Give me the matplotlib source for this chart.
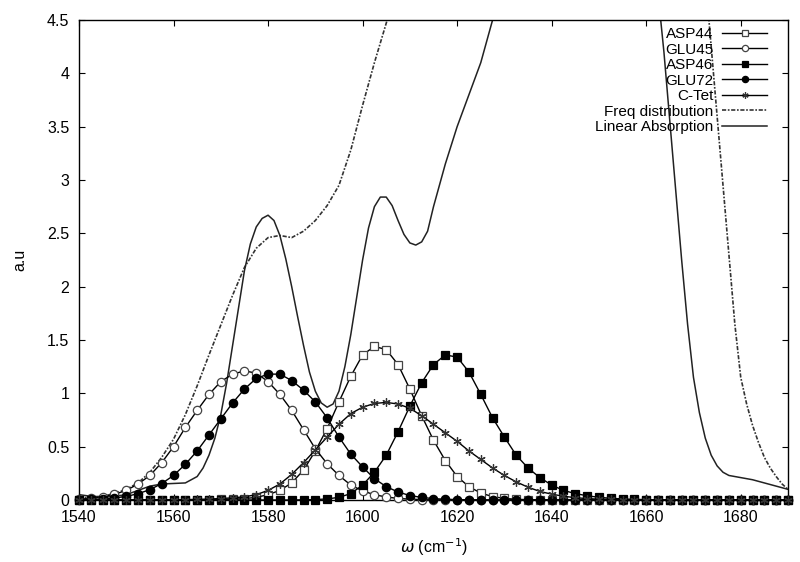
import numpy as np
import matplotlib
matplotlib.use("Agg")
import matplotlib.pyplot as plt
from matplotlib.ticker import FormatStrFormatter

# ---------------------------------------------------------------------------
# Data
# ---------------------------------------------------------------------------

# site spectra share a 2.5 cm^-1 grid, 1540..1690
omega = np.arange(1540, 1690.1, 2.5)

asp44 = [0, 0, 0, 0, 0, 0, 0, 0, 0.001, 0.001, 0.002, 0.003, 0.005, 0.008,
         0.013, 0.025, 0.05, 0.09, 0.16, 0.28, 0.46, 0.67, 0.92, 1.16, 1.36,
         1.44, 1.41, 1.27, 1.04, 0.79, 0.56, 0.37, 0.22, 0.125, 0.065, 0.032,
         0.015, 0.007, 0.003, 0.001, 0.001, 0, 0, 0, 0, 0, 0, 0, 0, 0, 0, 0,
         0, 0, 0, 0, 0, 0, 0, 0, 0]

glu45 = [0.008, 0.015, 0.029, 0.053, 0.09, 0.15, 0.23, 0.35, 0.5, 0.68,
         0.84, 0.99, 1.11, 1.18, 1.21, 1.19, 1.11, 0.99, 0.84, 0.66, 0.48,
         0.34, 0.23, 0.14, 0.085, 0.05, 0.028, 0.015, 0.008, 0.004, 0.002,
         0.001, 0, 0, 0, 0, 0, 0, 0, 0, 0, 0, 0, 0, 0, 0, 0, 0, 0, 0, 0, 0,
         0, 0, 0, 0, 0, 0, 0, 0, 0]

asp46 = [0, 0, 0, 0, 0, 0, 0, 0, 0, 0, 0, 0, 0, 0, 0, 0, 0, 0, 0, 0.002,
         0.004, 0.01, 0.025, 0.06, 0.14, 0.26, 0.42, 0.64, 0.88, 1.1, 1.27,
         1.36, 1.34, 1.2, 0.99, 0.77, 0.59, 0.42, 0.3, 0.21, 0.14, 0.09,
         0.06, 0.04, 0.025, 0.016, 0.01, 0.006, 0.004, 0.002, 0.002, 0.001,
         0.001, 0.001, 0, 0, 0, 0, 0, 0, 0]

glu72 = [0.002, 0.005, 0.01, 0.019, 0.034, 0.059, 0.097, 0.154, 0.23, 0.335,
         0.46, 0.61, 0.76, 0.91, 1.04, 1.14, 1.18, 1.18, 1.12, 1.03, 0.92,
         0.77, 0.59, 0.43, 0.31, 0.2, 0.125, 0.075, 0.042, 0.024, 0.013,
         0.007, 0.004, 0.002, 0.001, 0, 0, 0, 0, 0, 0, 0, 0, 0, 0, 0, 0, 0,
         0, 0, 0, 0, 0, 0, 0, 0, 0, 0, 0, 0, 0]

ctet = [0, 0, 0, 0, 0, 0.001, 0.001, 0.002, 0.003, 0.004, 0.006, 0.009,
        0.014, 0.02, 0.03, 0.05, 0.09, 0.15, 0.24, 0.35, 0.47, 0.59, 0.71,
        0.81, 0.87, 0.905, 0.915, 0.9, 0.86, 0.79, 0.71, 0.63, 0.55, 0.46,
        0.38, 0.3, 0.23, 0.17, 0.12, 0.08, 0.055, 0.035, 0.022, 0.013, 0.008,
        0.005, 0.003, 0.002, 0.001, 0.001, 0.001, 0, 0, 0, 0, 0, 0, 0, 0, 0, 0]

# frequency distribution (dash-dot curve)
fd_x = [1540, 1542.5, 1545, 1547.5, 1550, 1552.5, 1555, 1557.5, 1560, 1562.5,
        1565, 1567.5, 1570, 1572.5, 1575, 1577.5, 1580, 1582.5, 1585, 1587.5,
        1590, 1592.5, 1595, 1597.5, 1600, 1602.5, 1605, 1607.5, 1610, 1620,
        1630, 1640, 1650, 1660, 1665, 1670, 1672.5, 1673.75, 1675, 1676.25,
        1677.5, 1678.75, 1680, 1681.25, 1682.5, 1683.75, 1685, 1686.25,
        1687.5, 1688.75, 1690]
fd_y = [0.02, 0.025, 0.035, 0.06, 0.1, 0.16, 0.26, 0.4, 0.57, 0.8,
        1.07, 1.36, 1.64, 1.92, 2.18, 2.36, 2.46, 2.48, 2.46, 2.52,
        2.62, 2.76, 2.95, 3.28, 3.7, 4.1, 4.47, 4.85, 5.2, 6.5,
        7.5, 8.0, 8.0, 7.5, 6.8, 5.6, 4.9, 4.25, 3.6, 2.95,
        2.3, 1.65, 1.15, 0.9, 0.7, 0.54, 0.4, 0.3,
        0.22, 0.15, 0.1]

# linear absorption (solid curve)
la_x = [1540, 1542.5, 1545, 1547.5, 1550, 1552.5, 1555, 1557.5, 1560, 1562.5,
        1565, 1566.25, 1567.5, 1568.75, 1570, 1571.25, 1572.5, 1573.75, 1575,
        1576.25, 1577.5, 1578.75, 1580, 1581.25, 1582.5, 1583.75, 1585,
        1586.25, 1587.5, 1588.75, 1590, 1591.25, 1592.5, 1593.75, 1595,
        1596.25, 1597.5, 1598.75, 1600, 1601.25, 1602.5, 1603.75, 1605,
        1606.25, 1607.5, 1608.75, 1610, 1611.25, 1612.5, 1613.75, 1615,
        1617.5, 1620, 1622.5, 1625, 1627.5, 1630, 1635, 1640, 1645, 1650,
        1655, 1660, 1662.5, 1663.75, 1665, 1666.25, 1667.5, 1668.75, 1670,
        1671.25, 1672.5, 1673.75, 1675, 1676.25, 1677.5, 1680, 1682.5,
        1685, 1687.5, 1690]
la_y = [0.05, 0.035, 0.03, 0.035, 0.05, 0.09, 0.13, 0.15, 0.155, 0.16,
        0.22, 0.3, 0.42, 0.58, 0.8, 1.1, 1.45, 1.8, 2.15,
        2.4, 2.56, 2.64, 2.67, 2.62, 2.48, 2.26, 2.0,
        1.72, 1.45, 1.2, 1.02, 0.91, 0.87, 0.9, 1.02,
        1.25, 1.55, 1.9, 2.25, 2.55, 2.75, 2.84, 2.84,
        2.76, 2.62, 2.49, 2.41, 2.39, 2.42, 2.52, 2.75,
        3.15, 3.5, 3.8, 4.1, 4.5, 4.9, 5.6, 6.2, 6.5, 6.5,
        6.2, 5.3, 4.75, 4.2, 3.55, 2.9, 2.25, 1.65, 1.15,
        0.82, 0.58, 0.42, 0.32, 0.26, 0.23, 0.21, 0.19,
        0.16, 0.13, 0.1]

x_ticks = [1540, 1560, 1580, 1600, 1620, 1640, 1660, 1680]
y_ticks = [0, 0.5, 1, 1.5, 2, 2.5, 3, 3.5, 4, 4.5]

# ---------------------------------------------------------------------------
# Figure
# ---------------------------------------------------------------------------

plt.rcParams["font.family"] = ["Liberation Sans", "DejaVu Sans"]

fig = plt.figure(figsize=(8.0, 5.62), dpi=100)
ax = fig.add_axes([79 / 800, 62 / 562, 709 / 800, 480 / 562])

mk = dict(color="black", lw=1.0, ms=6, mew=0.9, clip_on=False, zorder=3)
ax.plot(omega, asp44, marker="s", mfc="white", mec="#444444", label="ASP44", **mk)
ax.plot(omega, glu45, marker="o", mfc="white", mec="#444444", label="GLU45", **mk)
ax.plot(omega, asp46, marker="s", mfc="black", mec="black", label="ASP46", **mk)
ax.plot(omega, glu72, marker="o", mfc="black", mec="black", label="GLU72", **mk)
ax.plot(omega, ctet, marker=(6, 2, 0), mec="#333333", label="C-Tet", **mk)
ax.plot(fd_x, fd_y, color="#333333", lw=1.2, ls=(0, (2.5, 1, 1, 1)),
        label="Freq distribution")
ax.plot(la_x, la_y, color="#222222", lw=1.1, label="Linear Absorption")

ax.set_xlim(1540, 1690)
ax.set_ylim(0, 4.5)
ax.set_xticks(x_ticks)
ax.set_yticks(y_ticks)
ax.yaxis.set_major_formatter(FormatStrFormatter("%g"))
ax.tick_params(direction="in", length=4, width=0.8, top=True, right=True,
               labelsize=11.5, pad=7)
for s in ax.spines.values():
    s.set_linewidth(1.0)

ax.set_xlabel(r"$\omega$ (cm$^{-1}$)", fontsize=11.5, labelpad=8)
ax.set_ylabel("a.u", fontsize=11.5, labelpad=14)

leg = ax.legend(loc="upper right", bbox_to_anchor=(0.97, 0.985),
                frameon=False, markerfirst=False, fontsize=11,
                handlelength=2.9, handletextpad=0.6, labelspacing=0.1,
                borderpad=0, borderaxespad=0, markerscale=0.75)

fig.savefig("out.png", dpi=100)
plt.close(fig)
